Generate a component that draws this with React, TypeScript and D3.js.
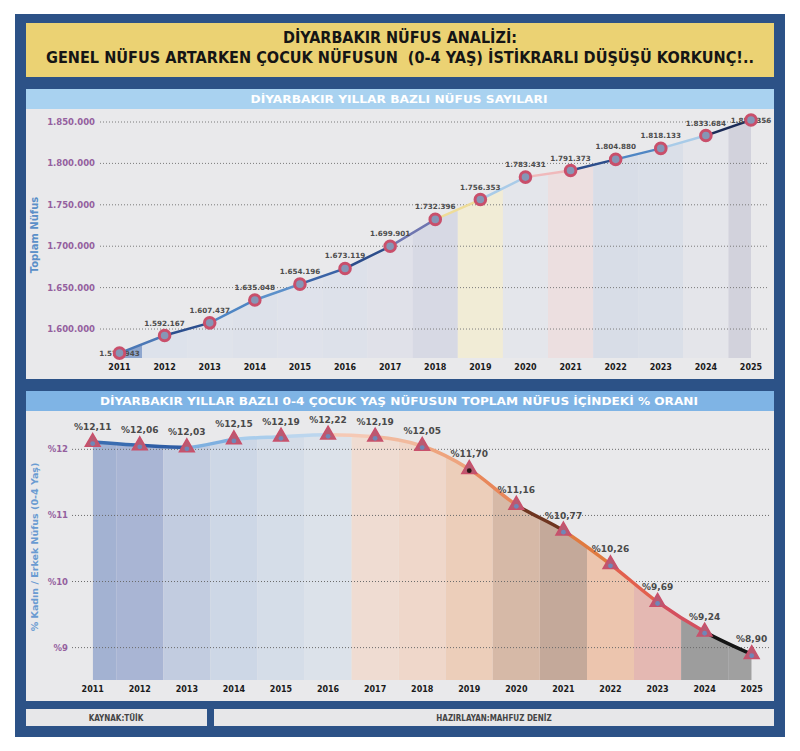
import * as d3 from "d3";

const years = ["2011", "2012", "2013", "2014", "2015", "2016", "2017", "2018", "2019", "2020", "2021", "2022", "2023", "2024", "2025"];
const population = [1570943, 1592167, 1607437, 1635048, 1654196, 1673119, 1699901, 1732396, 1756353, 1783431, 1791373, 1804880, 1818133, 1833684, 1852356];
const childShare = [12.11, 12.06, 12.03, 12.15, 12.19, 12.22, 12.19, 12.05, 11.7, 11.16, 10.77, 10.26, 9.69, 9.24, 8.9];
const populationTicks = [1600000, 1650000, 1700000, 1750000, 1800000, 1850000];
const shareTicks = [9, 10, 11, 12];

const titleLine1 = "DİYARBAKIR NÜFUS ANALİZİ:";
const titleLine2 = "GENEL NÜFUS ARTARKEN ÇOCUK NÜFUSUN  (0-4 YAŞ) İSTİKRARLI DÜŞÜŞÜ KORKUNÇ!..";
const topHeader = "DİYARBAKIR YILLAR BAZLI NÜFUS SAYILARI";
const bottomHeader = "DİYARBAKIR YILLAR BAZLI 0-4 ÇOCUK YAŞ NÜFUSUN TOPLAM NÜFUS İÇİNDEKİ % ORANI";

// colours per year column / per segment
const popAreaColors = ["#8ea6ce", "#dde2eb", "#dfe3eb", "#dde1ea", "#dfe2eb", "#dde1ea", "#e0e1e9", "#d7d9e4", "#f1ecd6", "#e4e6eb", "#ecdfe0", "#d8dde7", "#dadfe8", "#e4e5ea", "#d2d2dc"];
const popLineColors = ["#4b78b6", "#2c4f8e", "#4f86c4", "#5c90ca", "#3a63a6", "#2c4d8b", "#6f76b0", "#eedc98", "#a9cbe8", "#f0b9bb", "#2c4d8b", "#4f86c4", "#a8cbe8", "#1b2b57"];
const shareAreaColors = ["#a3b2d2", "#a9b5d4", "#c2cce0", "#cdd7e6", "#d5dde8", "#dce2ea", "#efdcd2", "#efd7ca", "#ecceba", "#d6b9a7", "#c4a99a", "#ecc5ae", "#e4b8b2", "#9d9d9d", "#a0a0a0"];
const shareLineColors = ["#3a6cb0", "#2f5ea5", "#7fb0e0", "#a9cdec", "#bcd6ee", "#f5c9b5", "#f1b99d", "#eea47e", "#e8875a", "#6e3520", "#e07a40", "#e2604e", "#d4505e", "#151515"];

const trLocale = d3.formatLocale({ decimal: ",", thousands: ".", grouping: [3], currency: ["", ""] });
const fmtPop = trLocale.format(",d");
const fmtShare = trLocale.format(".2f");

const numFont = "'DejaVu Sans', Verdana, sans-serif";
const narrowFont = "'Liberation Sans Narrow', 'DejaVu Sans Condensed', 'Liberation Sans', Arial, sans-serif";

function PopulationChart() {
  const x = d3.scalePoint().domain(years).range([119.5, 751]);
  const y = d3.scaleLinear().domain([1565000, 1865700]).range([358, 109]);
  const step = x.step();
  const pts = years.map((yr, i) => [x(yr), y(population[i])]);
  const area = d3.area().x((d) => d[0]).y0(358).y1((d) => d[1])(pts);
  const line = d3.line()(pts);
  const last = years.length - 1;
  return (
    <g>
      <defs>
        {years.map((yr, i) => {
          const x0 = i === 0 ? x(yr) : x(yr) - step / 2;
          const x1 = i === last ? x(yr) : x(yr) + step / 2;
          return <clipPath key={yr} id={"pc" + i}><rect x={x0} y={100} width={x1 - x0} height={270} /></clipPath>;
        })}
        {years.slice(0, -1).map((yr, i) => (
          <clipPath key={yr} id={"pl" + i}><rect x={x(yr)} y={100} width={step} height={270} /></clipPath>
        ))}
      </defs>
      <rect x={26} y={89} width={748} height={290} fill="#e9e9eb" />
      <rect x={26} y={89} width={748} height={20} fill="#a9d2f0" />
      <text x={399} y={103} textAnchor="middle" fontFamily={numFont} fontWeight="bold" fontSize={11} fill="#fff" textLength={297} lengthAdjust="spacingAndGlyphs">{topHeader}</text>
      {years.map((yr, i) => (
        <path key={yr} d={area} fill={popAreaColors[i]} clipPath={`url(#pc${i})`} />
      ))}
      {populationTicks.map((t) => (
        <g key={t}>
          <line x1={100} x2={768} y1={y(t)} y2={y(t)} stroke="#7a7a7a" strokeWidth={1} strokeDasharray="1 2" />
          <text x={95} y={y(t) + 3} textAnchor="end" fontFamily={numFont} fontWeight="bold" fontSize={8.5} fill="#94609e">{fmtPop(t)}</text>
        </g>
      ))}
      {years.slice(0, -1).map((yr, i) => (
        <path key={yr} d={line} fill="none" stroke={popLineColors[i]} strokeWidth={2.5} clipPath={`url(#pl${i})`} />
      ))}
      {years.map((yr, i) => (
        <text key={yr} x={x(yr)} y={i === 0 || i === last ? y(population[i]) + 3 : y(population[i]) - 10} textAnchor="middle" fontFamily={numFont} fontWeight="bold" fontSize={7.2} fill="#4d4d4d">{fmtPop(population[i])}</text>
      ))}
      {years.map((yr, i) => (
        <circle key={yr} cx={x(yr)} cy={y(population[i])} r={5.3} fill="#8696b6" stroke="#c94f6b" strokeWidth={3} />
      ))}
      {years.map((yr) => (
        <text key={yr} x={x(yr)} y={369.5} textAnchor="middle" fontFamily={numFont} fontWeight="bold" fontSize={8} fill="#1a1a1a">{yr}</text>
      ))}
      <text transform="translate(38,235) rotate(-90)" textAnchor="middle" fontFamily={numFont} fontWeight="bold" fontSize={10} fill="#5a8fc8">Toplam Nüfus</text>
    </g>
  );
}

function ShareChart() {
  const x = d3.scalePoint().domain(years).range([92.7, 751.7]);
  const y = d3.scaleLinear().domain([8.51, 12.58]).range([680, 411]);
  const step = x.step();
  const pts = years.map((yr, i) => [x(yr), y(childShare[i])]);
  const area = d3.area().curve(d3.curveMonotoneX).x((d) => d[0]).y0(680).y1((d) => d[1])(pts);
  const line = d3.line().curve(d3.curveMonotoneX)(pts);
  const last = years.length - 1;
  const tri = d3.symbol(d3.symbolTriangle, 95)();
  return (
    <g>
      <defs>
        {years.map((yr, i) => {
          const x0 = i === 0 ? x(yr) : x(yr) - step / 2;
          const x1 = i === last ? x(yr) : x(yr) + step / 2;
          return <clipPath key={yr} id={"sc" + i}><rect x={x0} y={400} width={x1 - x0} height={290} /></clipPath>;
        })}
        {years.slice(0, -1).map((yr, i) => (
          <clipPath key={yr} id={"sl" + i}><rect x={x(yr)} y={400} width={step} height={290} /></clipPath>
        ))}
      </defs>
      <rect x={26} y={391} width={748} height={310} fill="#e9e9eb" />
      <rect x={26} y={391} width={748} height={20} fill="#7fb4e5" />
      <text x={399} y={405} textAnchor="middle" fontFamily={numFont} fontWeight="bold" fontSize={11} fill="#fff" textLength={598} lengthAdjust="spacingAndGlyphs">{bottomHeader}</text>
      {years.map((yr, i) => (
        <path key={yr} d={area} fill={shareAreaColors[i]} clipPath={`url(#sc${i})`} />
      ))}
      {shareTicks.map((t) => (
        <g key={t}>
          <line x1={72} x2={770} y1={y(t)} y2={y(t)} stroke="#6a6a6a" strokeWidth={1} strokeDasharray="1 2" />
          <text x={68} y={y(t) + 3} textAnchor="end" fontFamily={numFont} fontWeight="bold" fontSize={8.5} fill="#94609e">{"%" + t}</text>
        </g>
      ))}
      {years.slice(0, -1).map((yr, i) => (
        <path key={yr} d={line} fill="none" stroke={shareLineColors[i]} strokeWidth={3.5} clipPath={`url(#sl${i})`} />
      ))}
      {years.map((yr, i) => (
        <text key={yr} x={x(yr)} y={y(childShare[i]) - 12} textAnchor="middle" fontFamily={numFont} fontWeight="bold" fontSize={9} fill="#4a4a4a">{"%" + fmtShare(childShare[i])}</text>
      ))}
      {years.map((yr, i) => (
        <g key={yr} transform={`translate(${x(yr)},${y(childShare[i])})`}>
          <path d={tri} fill="#b95a72" stroke="#c9506b" strokeWidth={1.5} />
          <circle cy={1.5} r={2.4} fill={yr === "2019" ? "#2a1616" : "#6f87b8"} />
        </g>
      ))}
      {years.map((yr) => (
        <text key={yr} x={x(yr)} y={692} textAnchor="middle" fontFamily={numFont} fontWeight="bold" fontSize={8} fill="#1a1a1a">{yr}</text>
      ))}
      <text transform="translate(38,547) rotate(-90)" textAnchor="middle" fontFamily={numFont} fontWeight="bold" fontSize={9.5} fill="#6a9bd2">% Kadın / Erkek Nüfus (0-4 Yaş)</text>
    </g>
  );
}

export default function App() {
  return (
    <svg width={800} height={751} style={{ position: "absolute", left: 0, top: 0, background: "#fff" }}>
      <rect x={15} y={14} width={770} height={723} fill="#2c5287" />
      <rect x={26} y={23} width={748} height={54} fill="#ebd273" />
      <text x={400} y={43} textAnchor="middle" fontFamily={narrowFont} fontWeight="bold" fontSize={16} fill="#151515" textLength={234} lengthAdjust="spacingAndGlyphs">{titleLine1}</text>
      <text x={400} y={62.5} textAnchor="middle" fontFamily={narrowFont} fontWeight="bold" fontSize={16} fill="#151515" textLength={708} lengthAdjust="spacingAndGlyphs" style={{ whiteSpace: "pre" }}>{titleLine2}</text>
      <PopulationChart />
      <ShareChart />
      <rect x={26} y={709} width={181} height={17} fill="#e7e7e9" />
      <rect x={214} y={709} width={560} height={17} fill="#e7e7e9" />
      <text x={116} y={720.5} textAnchor="middle" fontFamily={narrowFont} fontWeight="bold" fontSize={8} fill="#444">KAYNAK:TÜİK</text>
      <text x={494} y={720.5} textAnchor="middle" fontFamily={narrowFont} fontWeight="bold" fontSize={8} fill="#444">HAZIRLAYAN:MAHFUZ DENİZ</text>
    </svg>
  );
}
